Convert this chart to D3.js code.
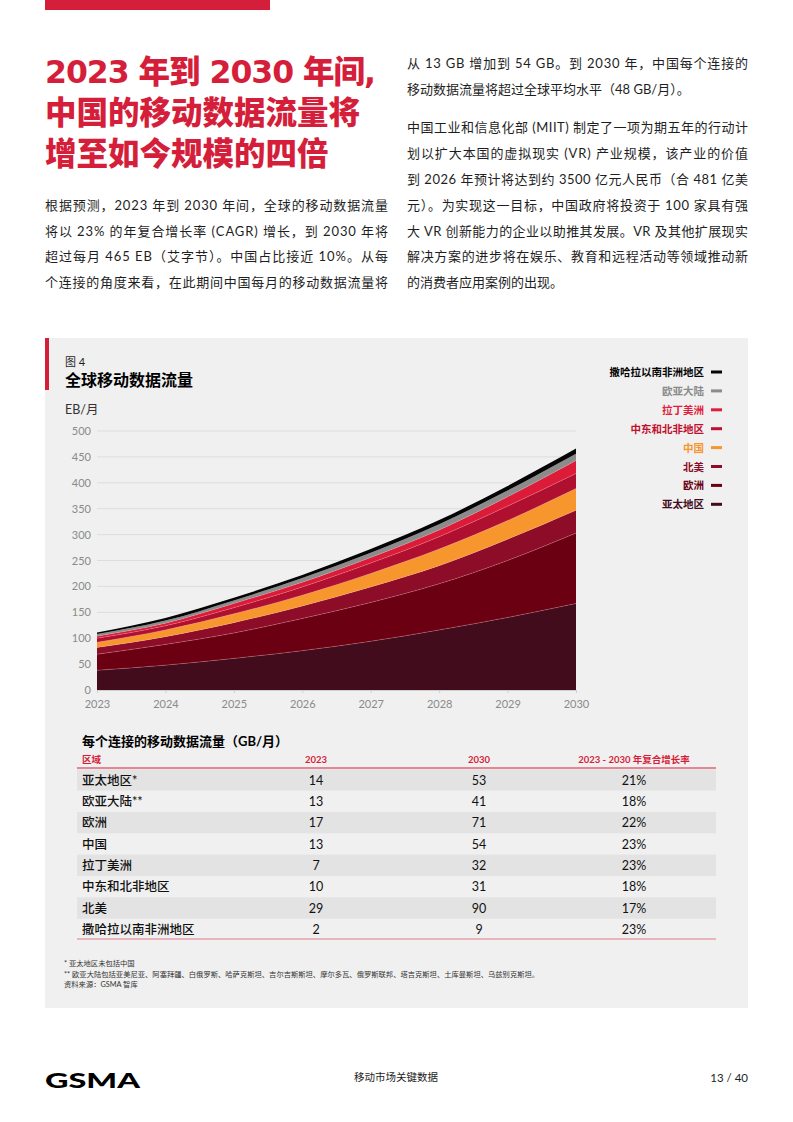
<!DOCTYPE html>
<html>
<head>
<meta charset="utf-8">
<script src="https://cdn.jsdelivr.net/npm/d3@7"></script>
<style>
  body { margin: 0; background: #fff; }
  svg { display: block; }
  text { font-family: "Lato", "Noto Sans CJK SC", sans-serif; }
</style>
</head>
<body>
<svg id="page" width="793" height="1122"></svg>
<script>
// chart data (EB per month, stacked from the bottom)
var years = [2023, 2024, 2025, 2026, 2027, 2028, 2029, 2030];
var apac = [38, 48, 61, 76, 94, 116, 140, 167];
var europe = [31, 40, 49, 62, 75, 89, 110, 136];
var northAmerica = [13, 15, 20, 24, 30, 35, 41, 44];
var china = [10, 13, 17, 21, 26, 32, 36, 42];
var mena = [8, 8, 12, 16, 20, 24, 28, 29];
var latam = [4, 5, 8, 9, 11, 13, 18, 25];
var eurasia = [4, 5, 6, 8, 9, 11, 12, 13];
var ssa = [3, 5, 5, 6, 7, 8, 9, 10];
var seriesNames = ["亚太地区", "欧洲", "北美", "中国", "中东和北非地区", "拉丁美洲", "欧亚大陆", "撒哈拉以南非洲地区"];
var seriesColors = ["#420c1d", "#6a0011", "#8d0c27", "#f7962c", "#b0102f", "#dc1b38", "#8b8b8b", "#050505"];
var legendColors = ["#420c1d", "#6a0011", "#8d0c27", "#f7962c", "#c0102f", "#e01f3d", "#8b8b8b", "#050505"];
var yTicks = [0, 50, 100, 150, 200, 250, 300, 350, 400, 450, 500];

// table data (GB per connection per month)
var tableRegions = ["亚太地区*", "欧亚大陆**", "欧洲", "中国", "拉丁美洲", "中东和北非地区", "北美", "撒哈拉以南非洲地区"];
var perConn2023 = [14, 13, 17, 13, 7, 10, 29, 2];
var perConn2030 = [53, 41, 71, 54, 32, 31, 90, 9];
var cagr = ["21%", "18%", "22%", "23%", "23%", "18%", "17%", "23%"];
var tableHeaders = ["区域", "2023", "2030", "2023 - 2030 年复合增长率"];

var red = "#d51e3a";
var ink = "#1e1e1e";
var svg = d3.select("#page");

// ---- page header ----
svg.append("rect").attr("x", 45).attr("y", 0).attr("width", 225).attr("height", 10).attr("fill", red);

var titleLines = ["2023 年到 2030 年间,", "中国的移动数据流量将", "增至如今规模的四倍"];
svg.append("g").selectAll("text")
  .data(titleLines)
  .enter().append("text")
  .attr("x", 45)
  .attr("y", (d, i) => 83 + i * 41)
  .attr("fill", red)
  .style("font-size", "31.5px")
  .style("font-weight", 900)
  .style("font-family", '"DejaVu Sans", "Noto Sans CJK SC", sans-serif')
  .attr("textLength", (d, i) => (i === 0 ? 331 : null))
  .attr("lengthAdjust", "spacing")
  .text(d => d);

// body columns: [text, justified]
var leftLines = [
  ["根据预测，2023 年到 2030 年间，全球的移动数据流量", true],
  ["将以 23% 的年复合增长率 (CAGR) 增长，到 2030 年将", true],
  ["超过每月 465 EB（艾字节）。中国占比接近 10%。从每", true],
  ["个连接的角度来看，在此期间中国每月的移动数据流量将", true]
];
var rightLines = [
  ["从 13 GB 增加到 54 GB。到 2030 年，中国每个连接的", true, 68],
  ["移动数据流量将超过全球平均水平（48 GB/月）。", false, 94],
  ["中国工业和信息化部 (MIIT) 制定了一项为期五年的行动计", true, 132],
  ["划以扩大本国的虚拟现实 (VR) 产业规模，该产业的价值", true, 158],
  ["到 2026 年预计将达到约 3500 亿元人民币（合 481 亿美", true, 184],
  ["元）。为实现这一目标，中国政府将投资于 100 家具有强", true, 210],
  ["大 VR 创新能力的企业以助推其发展。VR 及其他扩展现实", true, 236],
  ["解决方案的进步将在娱乐、教育和远程活动等领域推动新", true, 261],
  ["的消费者应用案例的出现。", false, 287]
];

function bodyText(lines, x0, width, yFn) {
  svg.append("g").selectAll("text")
    .data(lines)
    .enter().append("text")
    .attr("x", x0)
    .attr("y", yFn)
    .attr("fill", ink)
    .style("font-size", "13px")
    .attr("textLength", d => (d[1] ? width : null))
    .attr("lengthAdjust", "spacing")
    .text(d => d[0]);
}
bodyText(leftLines, 45, 343, (d, i) => 210 + i * 25.7);
bodyText(rightLines, 407, 341, d => d[2]);

// ---- figure panel ----
svg.append("rect").attr("x", 45).attr("y", 338).attr("width", 703).attr("height", 670).attr("fill", "#f0f0f0");
svg.append("rect").attr("x", 45).attr("y", 338).attr("width", 4).attr("height", 52).attr("fill", red);

svg.append("text").attr("x", 65).attr("y", 366).attr("fill", ink).style("font-size", "11px").text("图 4");
svg.append("text").attr("x", 65).attr("y", 386).attr("fill", "#000")
  .style("font-size", "16px").style("font-weight", 700).text("全球移动数据流量");
svg.append("text").attr("x", 65).attr("y", 414).attr("fill", "#333").style("font-size", "12.5px").text("EB/月");

var x = d3.scaleLinear().domain([2023, 2030]).range([97, 576]);
var y = d3.scaleLinear().domain([0, 500]).range([690, 431]);

// grid
svg.append("g").selectAll("line")
  .data(yTicks)
  .enter().append("line")
  .attr("x1", 97).attr("x2", 576)
  .attr("y1", d => y(d)).attr("y2", d => y(d))
  .attr("stroke", "#dddddd").attr("stroke-width", 1);

var yAxis = svg.append("g")
  .attr("transform", "translate(91,0)")
  .call(d3.axisLeft(y).tickValues(yTicks).tickSize(0).tickPadding(0));
yAxis.select(".domain").remove();
yAxis.selectAll("text").attr("fill", "#8a8a8a").style("font-size", "11px")
  .style("font-family", "Lato, sans-serif");

var rows = years.map((yr, i) => ({
  year: yr,
  s0: apac[i], s1: europe[i], s2: northAmerica[i], s3: china[i],
  s4: mena[i], s5: latam[i], s6: eurasia[i], s7: ssa[i]
}));
var keys = ["s0", "s1", "s2", "s3", "s4", "s5", "s6", "s7"];
var stacked = d3.stack().keys(keys)(rows);

var area = d3.area()
  .x(d => x(d.data.year))
  .y0(d => y(d[0]))
  .y1(d => y(d[1]))
  .curve(d3.curveMonotoneX);
var topLine = d3.line()
  .x(d => x(d.data.year))
  .y(d => y(d[1]))
  .curve(d3.curveMonotoneX);

svg.append("g").selectAll("path")
  .data(stacked)
  .enter().append("path")
  .attr("d", area)
  .attr("fill", (d, i) => seriesColors[i]);

svg.append("g").selectAll("path")
  .data(stacked.slice(0, 6))
  .enter().append("path")
  .attr("d", topLine)
  .attr("fill", "none")
  .attr("stroke", "rgba(255,190,200,0.35)")
  .attr("stroke-width", 0.7);

var xAxis = svg.append("g")
  .attr("transform", "translate(0,690)")
  .call(d3.axisBottom(x).tickValues(years).tickFormat(d3.format("d")).tickSize(3).tickPadding(7));
xAxis.select(".domain").attr("stroke", "#cfcfcf");
xAxis.selectAll(".tick line").attr("stroke", "#cfcfcf");
xAxis.selectAll("text").attr("fill", "#8a8a8a").style("font-size", "11px")
  .style("font-family", "Lato, sans-serif");

// legend (top item = last series)
var legendOrder = d3.range(seriesNames.length).reverse();
var legend = svg.append("g").selectAll("g")
  .data(legendOrder)
  .enter().append("g")
  .attr("transform", (d, i) => "translate(0," + (372 + i * 18.9) + ")");
legend.append("text")
  .attr("x", 704).attr("y", 4)
  .attr("text-anchor", "end")
  .attr("fill", d => legendColors[d])
  .style("font-size", "10.5px").style("font-weight", 700)
  .text(d => seriesNames[d]);
legend.append("rect")
  .attr("x", 711).attr("y", -1.5).attr("width", 11).attr("height", 3)
  .attr("fill", d => legendColors[d]);

// ---- table ----
svg.append("text").attr("x", 82).attr("y", 746).attr("fill", "#000")
  .style("font-size", "13px").style("font-weight", 700).text("每个连接的移动数据流量（GB/月）");

var colX = [82, 316, 479, 634];
svg.append("g").selectAll("text")
  .data(tableHeaders)
  .enter().append("text")
  .attr("x", (d, i) => colX[i])
  .attr("y", 763)
  .attr("text-anchor", (d, i) => (i === 0 ? "start" : "middle"))
  .attr("fill", red)
  .style("font-size", "9.5px").style("font-weight", 700)
  .text(d => d);
svg.append("line").attr("x1", 77).attr("x2", 716).attr("y1", 768).attr("y2", 768)
  .attr("stroke", red).attr("stroke-width", 1.2);

var rowY = d3.scaleBand().domain(d3.range(tableRegions.length)).range([769.3, 940]);
var trow = svg.append("g").selectAll("g")
  .data(tableRegions)
  .enter().append("g")
  .attr("transform", (d, i) => "translate(0," + rowY(i) + ")");
trow.append("rect")
  .attr("x", 77).attr("width", 639).attr("height", rowY.bandwidth())
  .attr("fill", (d, i) => (i % 2 === 0 ? "#e3e3e3" : "none"));
trow.append("text")
  .attr("x", colX[0]).attr("y", 15.5)
  .attr("fill", "#111").style("font-size", "12.5px").style("font-weight", 500)
  .text(d => d);
trow.append("text")
  .attr("x", colX[1]).attr("y", 15.5).attr("text-anchor", "middle")
  .attr("fill", "#111").style("font-size", "12.5px")
  .text((d, i) => perConn2023[i]);
trow.append("text")
  .attr("x", colX[2]).attr("y", 15.5).attr("text-anchor", "middle")
  .attr("fill", "#111").style("font-size", "12.5px")
  .text((d, i) => perConn2030[i]);
trow.append("text")
  .attr("x", colX[3]).attr("y", 15.5).attr("text-anchor", "middle")
  .attr("fill", "#111").style("font-size", "12.5px")
  .text((d, i) => cagr[i]);
svg.append("line").attr("x1", 77).attr("x2", 716).attr("y1", 939).attr("y2", 939)
  .attr("stroke", "#e07a8a").attr("stroke-width", 1);

// notes
var notes = [
  "* 亚太地区未包括中国",
  "** 欧亚大陆包括亚美尼亚、阿塞拜疆、白俄罗斯、哈萨克斯坦、吉尔吉斯斯坦、摩尔多瓦、俄罗斯联邦、塔吉克斯坦、土库曼斯坦、乌兹别克斯坦。",
  "资料来源：GSMA 智库"
];
svg.append("g").selectAll("text")
  .data(notes)
  .enter().append("text")
  .attr("x", 64).attr("y", (d, i) => 966 + i * 10.5)
  .attr("fill", "#333").style("font-size", "7.3px")
  .text(d => d);

// ---- footer ----
svg.append("text").attr("x", 45).attr("y", 1088).attr("fill", "#000")
  .style("font-size", "20px").style("font-weight", 900).style("font-family", "Lato, sans-serif")
  .attr("textLength", 95).attr("lengthAdjust", "spacingAndGlyphs")
  .text("GSMA");
svg.append("text").attr("x", 396).attr("y", 1081).attr("text-anchor", "middle")
  .attr("fill", ink).style("font-size", "10.5px").text("移动市场关键数据");
svg.append("text").attr("x", 748).attr("y", 1082).attr("text-anchor", "end")
  .attr("fill", ink).style("font-size", "11.5px").text("13 / 40");
</script>
</body>
</html>
